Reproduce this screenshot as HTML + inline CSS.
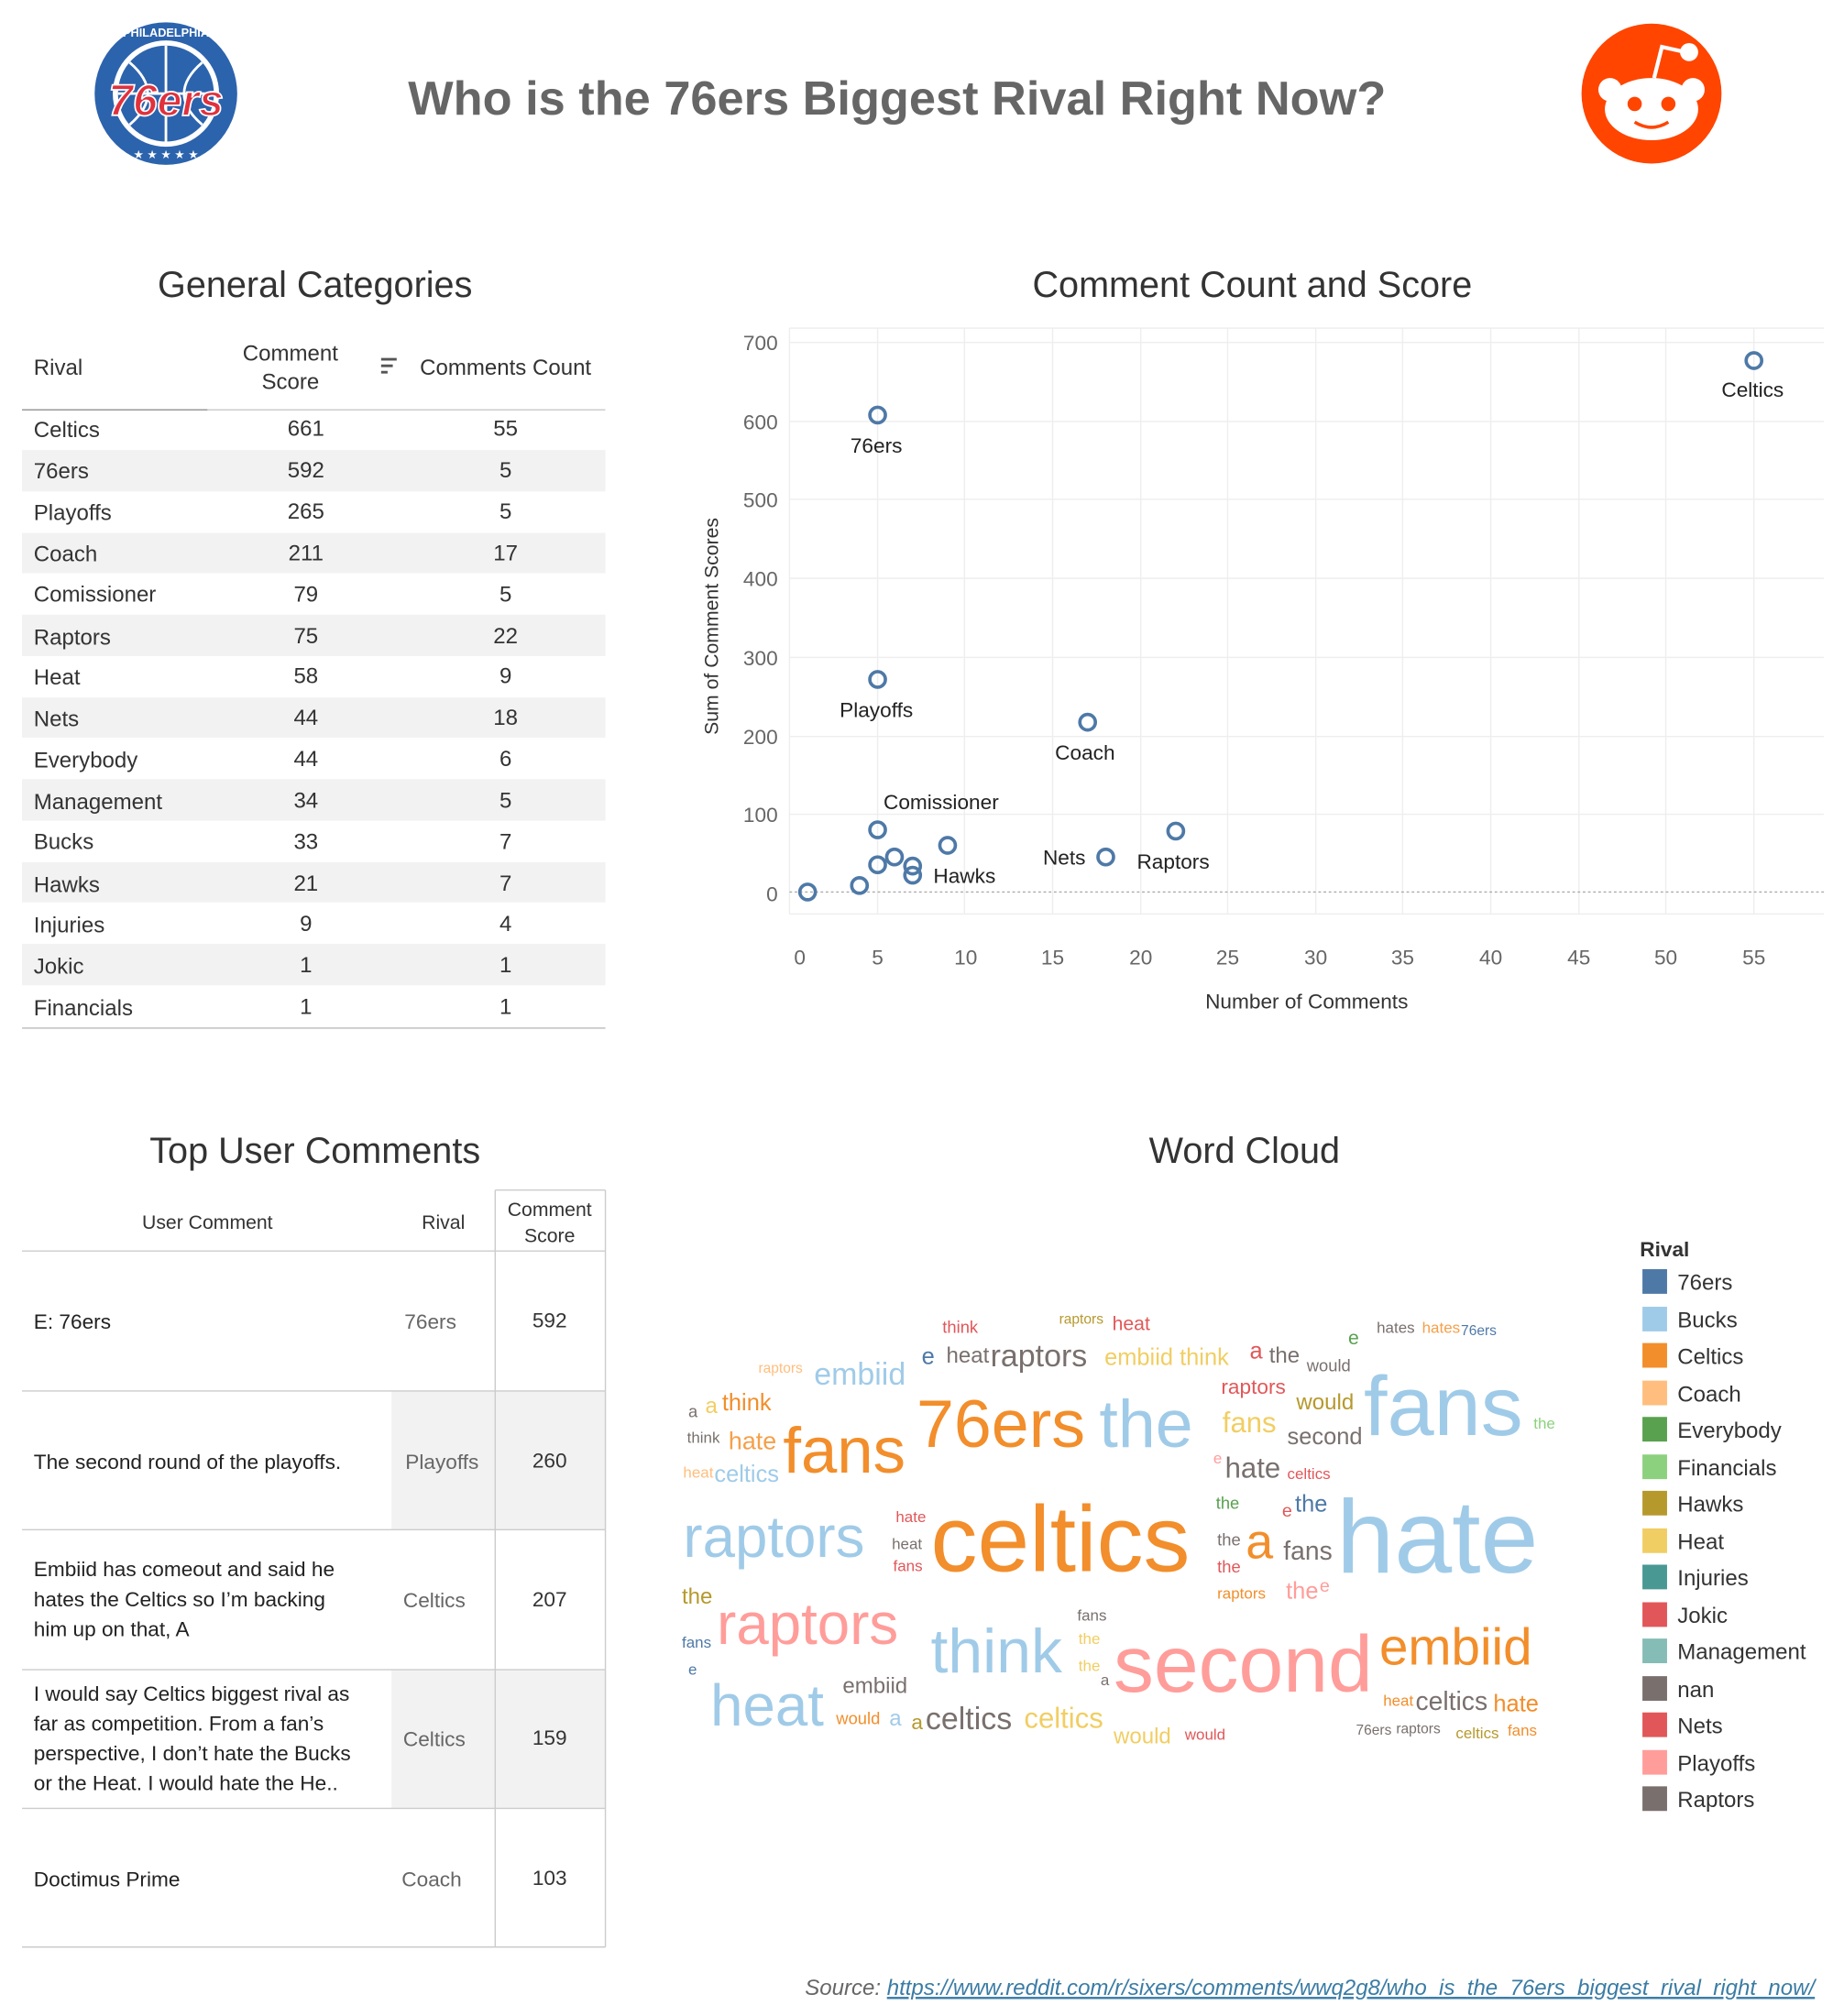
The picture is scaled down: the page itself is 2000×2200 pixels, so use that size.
<!DOCTYPE html>
<html><head><meta charset="utf-8"><style>
html,body{margin:0;padding:0;background:#fff;}
svg{display:block;}
text{font-family:"Liberation Sans","DejaVu Sans",sans-serif;}
</style></head><body>
<svg width="2000" height="2200" viewBox="0 0 1414 1555" xmlns="http://www.w3.org/2000/svg">
<!-- Header -->
<g>
<circle cx="128" cy="72" r="55" fill="#2c63ad"/>
<circle cx="128" cy="72" r="41" fill="#fff"/>
<circle cx="128" cy="72" r="37" fill="#2c63ad"/>
<path d="M91 72 H165 M128 35 V109 M100 48 Q128 72 100 96 M156 48 Q128 72 156 96" stroke="#fff" stroke-width="2" fill="none"/>
<text x="128" y="89" font-size="34" font-weight="bold" fill="#e0313d" text-anchor="middle" font-style="italic" stroke="#fff" stroke-width="1.2">76ers</text>
<text x="128" y="28" font-size="9" fill="#fff" text-anchor="middle" font-weight="bold">PHILADELPHIA</text>
<text x="128" y="122" font-size="9" fill="#fff" text-anchor="middle">★ ★ ★ ★ ★</text>
</g>
<text x="692" y="88" font-size="37" font-weight="bold" fill="#666" text-anchor="middle">Who is the 76ers Biggest Rival Right Now?</text>
<g>
<circle cx="1274" cy="72" r="54" fill="#ff4500"/>
<ellipse cx="1274" cy="84" rx="36" ry="24" fill="#fff"/>
<circle cx="1242" cy="69" r="9" fill="#fff"/>
<circle cx="1306" cy="69" r="9" fill="#fff"/>
<circle cx="1303" cy="40" r="7" fill="#fff"/>
<path d="M1276 60 L1282 36 L1300 40" stroke="#fff" stroke-width="3" fill="none"/>
<circle cx="1261" cy="80" r="5.5" fill="#ff4500"/>
<circle cx="1287" cy="80" r="5.5" fill="#ff4500"/>
<path d="M1261 94 Q1274 102 1287 94" stroke="#ff4500" stroke-width="2.5" fill="none"/>
</g>

<!-- General Categories -->
<text x="243" y="229" font-size="28" fill="#333" text-anchor="middle">General Categories</text>
<text x="26" y="289" font-size="17" fill="#333">Rival</text>
<text x="224" y="278" font-size="17" fill="#333" text-anchor="middle">Comment</text>
<text x="224" y="300" font-size="17" fill="#333" text-anchor="middle">Score</text>
<path d="M294 277h12M294 282h9M294 287h5" stroke="#555" stroke-width="2"/>
<text x="390" y="289" font-size="17" fill="#333" text-anchor="middle">Comments Count</text>
<g font-size="17" fill="#333">
<rect x="17" y="347" width="450" height="32" fill="#f2f2f2"/>
<rect x="17" y="411" width="450" height="31" fill="#f2f2f2"/>
<rect x="17" y="474" width="450" height="32" fill="#f2f2f2"/>
<rect x="17" y="538" width="450" height="31" fill="#f2f2f2"/>
<rect x="17" y="601" width="450" height="32" fill="#f2f2f2"/>
<rect x="17" y="665" width="450" height="31" fill="#f2f2f2"/>
<rect x="17" y="728" width="450" height="32" fill="#f2f2f2"/>
<line x1="17" y1="316" x2="467" y2="316" stroke="#ccc"/>
<line x1="17" y1="316" x2="160" y2="316" stroke="#999"/>
<line x1="17" y1="793" x2="467" y2="793" stroke="#bbb"/>
<text x="26" y="337">Celtics</text><text x="236" y="336" text-anchor="middle">661</text><text x="390" y="336" text-anchor="middle">55</text>
<text x="26" y="369">76ers</text><text x="236" y="368" text-anchor="middle">592</text><text x="390" y="368" text-anchor="middle">5</text>
<text x="26" y="401">Playoffs</text><text x="236" y="400" text-anchor="middle">265</text><text x="390" y="400" text-anchor="middle">5</text>
<text x="26" y="433">Coach</text><text x="236" y="432" text-anchor="middle">211</text><text x="390" y="432" text-anchor="middle">17</text>
<text x="26" y="464">Comissioner</text><text x="236" y="464" text-anchor="middle">79</text><text x="390" y="464" text-anchor="middle">5</text>
<text x="26" y="497">Raptors</text><text x="236" y="496" text-anchor="middle">75</text><text x="390" y="496" text-anchor="middle">22</text>
<text x="26" y="528">Heat</text><text x="236" y="527" text-anchor="middle">58</text><text x="390" y="527" text-anchor="middle">9</text>
<text x="26" y="560">Nets</text><text x="236" y="559" text-anchor="middle">44</text><text x="390" y="559" text-anchor="middle">18</text>
<text x="26" y="592">Everybody</text><text x="236" y="591" text-anchor="middle">44</text><text x="390" y="591" text-anchor="middle">6</text>
<text x="26" y="624">Management</text><text x="236" y="623" text-anchor="middle">34</text><text x="390" y="623" text-anchor="middle">5</text>
<text x="26" y="655">Bucks</text><text x="236" y="655" text-anchor="middle">33</text><text x="390" y="655" text-anchor="middle">7</text>
<text x="26" y="688">Hawks</text><text x="236" y="687" text-anchor="middle">21</text><text x="390" y="687" text-anchor="middle">7</text>
<text x="26" y="719">Injuries</text><text x="236" y="718" text-anchor="middle">9</text><text x="390" y="718" text-anchor="middle">4</text>
<text x="26" y="751">Jokic</text><text x="236" y="750" text-anchor="middle">1</text><text x="390" y="750" text-anchor="middle">1</text>
<text x="26" y="783">Financials</text><text x="236" y="782" text-anchor="middle">1</text><text x="390" y="782" text-anchor="middle">1</text>
</g>

<!-- Scatter -->
<text x="966" y="229" font-size="28" fill="#333" text-anchor="middle">Comment Count and Score</text>
<g stroke="#eee" stroke-width="1">
<line x1="609" y1="253" x2="1407" y2="253"/>
<line x1="609" y1="264" x2="1407" y2="264"/><line x1="609" y1="325" x2="1407" y2="325"/><line x1="609" y1="385" x2="1407" y2="385"/><line x1="609" y1="446" x2="1407" y2="446"/><line x1="609" y1="507" x2="1407" y2="507"/><line x1="609" y1="568" x2="1407" y2="568"/><line x1="609" y1="628" x2="1407" y2="628"/>
<line x1="609" y1="705" x2="1407" y2="705"/>
<line x1="609" y1="253" x2="609" y2="705"/>
<line x1="677" y1="253" x2="677" y2="705"/><line x1="744" y1="253" x2="744" y2="705"/><line x1="812" y1="253" x2="812" y2="705"/><line x1="880" y1="253" x2="880" y2="705"/><line x1="947" y1="253" x2="947" y2="705"/><line x1="1015" y1="253" x2="1015" y2="705"/><line x1="1082" y1="253" x2="1082" y2="705"/><line x1="1150" y1="253" x2="1150" y2="705"/><line x1="1218" y1="253" x2="1218" y2="705"/><line x1="1285" y1="253" x2="1285" y2="705"/><line x1="1353" y1="253" x2="1353" y2="705"/>
</g>
<line x1="609" y1="688" x2="1407" y2="688" stroke="#aaa" stroke-dasharray="2,2"/>
<g font-size="16" fill="#666" text-anchor="end">
<text x="600" y="270">700</text><text x="600" y="331">600</text><text x="600" y="391">500</text><text x="600" y="452">400</text><text x="600" y="513">300</text><text x="600" y="574">200</text><text x="600" y="634">100</text><text x="600" y="695">0</text>
</g>
<g font-size="16" fill="#666" text-anchor="middle">
<text x="617" y="744">0</text><text x="677" y="744">5</text><text x="745" y="744">10</text><text x="812" y="744">15</text><text x="880" y="744">20</text><text x="947" y="744">25</text><text x="1015" y="744">30</text><text x="1082" y="744">35</text><text x="1150" y="744">40</text><text x="1218" y="744">45</text><text x="1285" y="744">50</text><text x="1353" y="744">55</text>
</g>
<text x="1008" y="778" font-size="16" fill="#333" text-anchor="middle">Number of Comments</text>
<text transform="translate(554,483) rotate(-90)" font-size="15" fill="#333" text-anchor="middle">Sum of Comment Scores</text>
<g fill="none" stroke="#4e79a7" stroke-width="2.6">
<circle cx="1353" cy="278" r="6"/><circle cx="677" cy="320" r="6"/><circle cx="677" cy="524" r="6"/><circle cx="839" cy="557" r="6"/><circle cx="677" cy="640" r="6"/><circle cx="907" cy="641" r="6"/><circle cx="731" cy="652" r="6"/><circle cx="853" cy="661" r="6"/><circle cx="690" cy="661" r="6"/><circle cx="677" cy="667" r="6"/><circle cx="704" cy="668" r="6"/><circle cx="704" cy="675" r="6"/><circle cx="663" cy="683" r="6"/><circle cx="623" cy="688" r="6"/>
</g>
<g font-size="16" fill="#222" text-anchor="middle">
<text x="1352" y="306">Celtics</text><text x="676" y="349">76ers</text><text x="676" y="553">Playoffs</text><text x="837" y="586">Coach</text><text x="726" y="624">Comissioner</text><text x="905" y="670">Raptors</text><text x="821" y="667">Nets</text><text x="744" y="681">Hawks</text>
</g>

<!-- Top User Comments -->
<text x="243" y="897" font-size="28" fill="#333" text-anchor="middle">Top User Comments</text>
<rect x="302" y="1073" width="165" height="107" fill="#f2f2f2"/>
<rect x="302" y="1288" width="165" height="107" fill="#f2f2f2"/>
<g stroke="#ccc">
<line x1="382" y1="918" x2="382" y2="1502"/><line x1="467" y1="918" x2="467" y2="1502"/>
<line x1="17" y1="965" x2="467" y2="965"/><line x1="17" y1="1073" x2="467" y2="1073"/><line x1="17" y1="1180" x2="467" y2="1180"/><line x1="17" y1="1288" x2="467" y2="1288"/><line x1="17" y1="1395" x2="467" y2="1395"/><line x1="17" y1="1502" x2="467" y2="1502"/>
<line x1="382" y1="918" x2="467" y2="918"/>
</g>
<g font-size="15" fill="#333" text-anchor="middle">
<text x="160" y="948">User Comment</text><text x="342" y="948">Rival</text><text x="424" y="938">Comment</text><text x="424" y="958">Score</text>
</g>
<g font-size="16" fill="#222">
<text x="26" y="1025">E: 76ers</text>
<text x="26" y="1133">The second round of the playoffs.</text>
<text x="26" y="1216">Embiid has comeout and said he</text><text x="26" y="1239">hates the Celtics so I’m backing</text><text x="26" y="1262">him up on that, A</text>
<text x="26" y="1312">I would say Celtics biggest rival as</text><text x="26" y="1335">far as competition.  From a fan’s</text><text x="26" y="1358">perspective, I don’t hate the Bucks</text><text x="26" y="1381">or the Heat.  I would hate the He..</text>
<text x="26" y="1455">Doctimus Prime</text>
</g>
<g font-size="16" fill="#666" text-anchor="middle">
<text x="332" y="1025">76ers</text><text x="341" y="1133">Playoffs</text><text x="335" y="1240">Celtics</text><text x="335" y="1347">Celtics</text><text x="333" y="1455">Coach</text>
</g>
<g font-size="16" fill="#333" text-anchor="middle">
<text x="424" y="1024">592</text><text x="424" y="1132">260</text><text x="424" y="1239">207</text><text x="424" y="1346">159</text><text x="424" y="1454">103</text>
</g>

<!-- Word cloud -->
<text x="960" y="897" font-size="28" fill="#333" text-anchor="middle">Word Cloud</text>
<g style="font-family:'DejaVu Sans Condensed','Liberation Sans Narrow','Liberation Sans',sans-serif">
<text x="727" y="1028" font-size="13" fill="#e15759">think</text>
<text x="817" y="1021" font-size="11" fill="#b6992d">raptors</text>
<text x="858" y="1026" font-size="15" fill="#e15759">heat</text>
<text x="1040" y="1037" font-size="15" fill="#59a14f">e</text>
<text x="1062" y="1028" font-size="12" fill="#79706e">hates</text>
<text x="1097" y="1028" font-size="12" fill="#f5a04a">hates</text>
<text x="1127" y="1030" font-size="11" fill="#4e79a7">76ers</text>
<text x="585" y="1059" font-size="11" fill="#ffbe7d">raptors</text>
<text x="628" y="1068" font-size="24" fill="#a0cbe8">embiid</text>
<text x="711" y="1052" font-size="18" fill="#4e79a7">e</text>
<text x="730" y="1051" font-size="17" fill="#79706e">heat</text>
<text x="764" y="1054" font-size="24" fill="#79706e">raptors</text>
<text x="852" y="1053" font-size="18" fill="#f1ce63">embiid think</text>
<text x="964" y="1048" font-size="18" fill="#e15759">a</text>
<text x="979" y="1051" font-size="17" fill="#79706e">the</text>
<text x="1008" y="1058" font-size="13" fill="#79706e">would</text>
<text x="531" y="1093" font-size="13" fill="#79706e">a</text>
<text x="544" y="1090" font-size="17" fill="#f1ce63">a</text>
<text x="557" y="1088" font-size="18" fill="#f28e2b">think</text>
<text x="530" y="1113" font-size="12" fill="#79706e">think</text>
<text x="562" y="1118" font-size="19" fill="#f5a04a">hate</text>
<text x="604" y="1136" font-size="50" fill="#f28e2b">fans</text>
<text x="527" y="1140" font-size="12" fill="#ffbe7d">heat</text>
<text x="551" y="1143" font-size="18" fill="#a0cbe8">celtics</text>
<text x="707" y="1116" font-size="52" fill="#f28e2b">76ers</text>
<text x="848" y="1116" font-size="52" fill="#a0cbe8">the</text>
<text x="942" y="1075" font-size="16" fill="#e15759">raptors</text>
<text x="1000" y="1087" font-size="17" fill="#b6992d">would</text>
<text x="943" y="1105" font-size="22" fill="#f1ce63">fans</text>
<text x="993" y="1114" font-size="18" fill="#79706e">second</text>
<text x="1052" y="1107" font-size="65" fill="#a0cbe8">fans</text>
<text x="1183" y="1102" font-size="12" fill="#8cd17d">the</text>
<text x="936" y="1129" font-size="12" fill="#ff9d9a">e</text>
<text x="945" y="1140" font-size="22" fill="#79706e">hate</text>
<text x="993" y="1141" font-size="12" fill="#e15759">celtics</text>
<text x="938" y="1164" font-size="13" fill="#59a14f">the</text>
<text x="989" y="1170" font-size="14" fill="#e15759">e</text>
<text x="999" y="1166" font-size="18" fill="#4e79a7">the</text>
<text x="527" y="1201" font-size="45" fill="#a0cbe8">raptors</text>
<text x="691" y="1174" font-size="12" fill="#e15759">hate</text>
<text x="688" y="1195" font-size="12" fill="#79706e">heat</text>
<text x="689" y="1212" font-size="12" fill="#e15759">fans</text>
<text x="718" y="1212" font-size="72" fill="#f28e2b">celtics</text>
<text x="939" y="1192" font-size="13" fill="#79706e">the</text>
<text x="961" y="1202" font-size="38" fill="#f28e2b">a</text>
<text x="990" y="1203" font-size="20" fill="#79706e">fans</text>
<text x="939" y="1213" font-size="13" fill="#e15759">the</text>
<text x="1031" y="1213" font-size="80" fill="#a0cbe8">hate</text>
<text x="939" y="1233" font-size="12" fill="#f28e2b">raptors</text>
<text x="992" y="1233" font-size="18" fill="#ff9d9a">the</text>
<text x="1018" y="1228" font-size="14" fill="#ff9d9a">e</text>
<text x="526" y="1237" font-size="17" fill="#b6992d">the</text>
<text x="831" y="1250" font-size="12" fill="#79706e">fans</text>
<text x="553" y="1268" font-size="45" fill="#ff9d9a">raptors</text>
<text x="526" y="1271" font-size="12" fill="#4e79a7">fans</text>
<text x="832" y="1268" font-size="12" fill="#f1ce63">the</text>
<text x="718" y="1290" font-size="48" fill="#a0cbe8">think</text>
<text x="832" y="1289" font-size="12" fill="#f1ce63">the</text>
<text x="531" y="1292" font-size="12" fill="#4e79a7">e</text>
<text x="849" y="1300" font-size="12" fill="#79706e">a</text>
<text x="859" y="1305" font-size="62" fill="#ff9d9a">second</text>
<text x="1064" y="1284" font-size="40" fill="#f28e2b">embiid</text>
<text x="650" y="1306" font-size="17" fill="#79706e">embiid</text>
<text x="548" y="1331" font-size="45" fill="#a0cbe8">heat</text>
<text x="645" y="1330" font-size="13" fill="#f28e2b">would</text>
<text x="686" y="1331" font-size="17" fill="#a0cbe8">a</text>
<text x="703" y="1334" font-size="16" fill="#b6992d">a</text>
<text x="714" y="1334" font-size="24" fill="#79706e">celtics</text>
<text x="790" y="1333" font-size="22" fill="#f1ce63">celtics</text>
<text x="1067" y="1316" font-size="12" fill="#f28e2b">heat</text>
<text x="1092" y="1319" font-size="20" fill="#79706e">celtics</text>
<text x="1152" y="1320" font-size="18" fill="#f28e2b">hate</text>
<text x="859" y="1345" font-size="17" fill="#f1ce63">would</text>
<text x="914" y="1342" font-size="12" fill="#e15759">would</text>
<text x="1046" y="1338" font-size="11" fill="#79706e">76ers</text>
<text x="1077" y="1337" font-size="11" fill="#79706e">raptors</text>
<text x="1123" y="1341" font-size="12" fill="#b6992d">celtics</text>
<text x="1163" y="1339" font-size="12" fill="#f28e2b">fans</text>
</g>

<!-- Legend -->
<text x="1265" y="969" font-size="16" fill="#333" font-weight="bold">Rival</text>
<g font-size="17" fill="#333">
<rect x="1267" y="979" width="19" height="19" fill="#4e79a7"/><text x="1294" y="995">76ers</text>
<rect x="1267" y="1008" width="19" height="19" fill="#a0cbe8"/><text x="1294" y="1024">Bucks</text>
<rect x="1267" y="1036" width="19" height="19" fill="#f28e2b"/><text x="1294" y="1052">Celtics</text>
<rect x="1267" y="1065" width="19" height="19" fill="#ffbe7d"/><text x="1294" y="1081">Coach</text>
<rect x="1267" y="1093" width="19" height="19" fill="#59a14f"/><text x="1294" y="1109">Everybody</text>
<rect x="1267" y="1122" width="19" height="19" fill="#8cd17d"/><text x="1294" y="1138">Financials</text>
<rect x="1267" y="1150" width="19" height="19" fill="#b6992d"/><text x="1294" y="1166">Hawks</text>
<rect x="1267" y="1179" width="19" height="19" fill="#f1ce63"/><text x="1294" y="1195">Heat</text>
<rect x="1267" y="1207" width="19" height="19" fill="#499894"/><text x="1294" y="1223">Injuries</text>
<rect x="1267" y="1236" width="19" height="19" fill="#e15759"/><text x="1294" y="1252">Jokic</text>
<rect x="1267" y="1264" width="19" height="19" fill="#86bcb6"/><text x="1294" y="1280">Management</text>
<rect x="1267" y="1293" width="19" height="19" fill="#79706e"/><text x="1294" y="1309">nan</text>
<rect x="1267" y="1321" width="19" height="19" fill="#e15759"/><text x="1294" y="1337">Nets</text>
<rect x="1267" y="1350" width="19" height="19" fill="#ff9d9a"/><text x="1294" y="1366">Playoffs</text>
<rect x="1267" y="1378" width="19" height="19" fill="#79706e"/><text x="1294" y="1394">Raptors</text>
</g>

<!-- Source -->
<text x="1400" y="1539" font-size="17" font-style="italic" fill="#666" text-anchor="end">Source: <tspan fill="#3a7ca5" text-decoration="underline">https://www.reddit.com/r/sixers/comments/wwq2g8/who_is_the_76ers_biggest_rival_right_now/</tspan></text>
</svg>
</body></html>
